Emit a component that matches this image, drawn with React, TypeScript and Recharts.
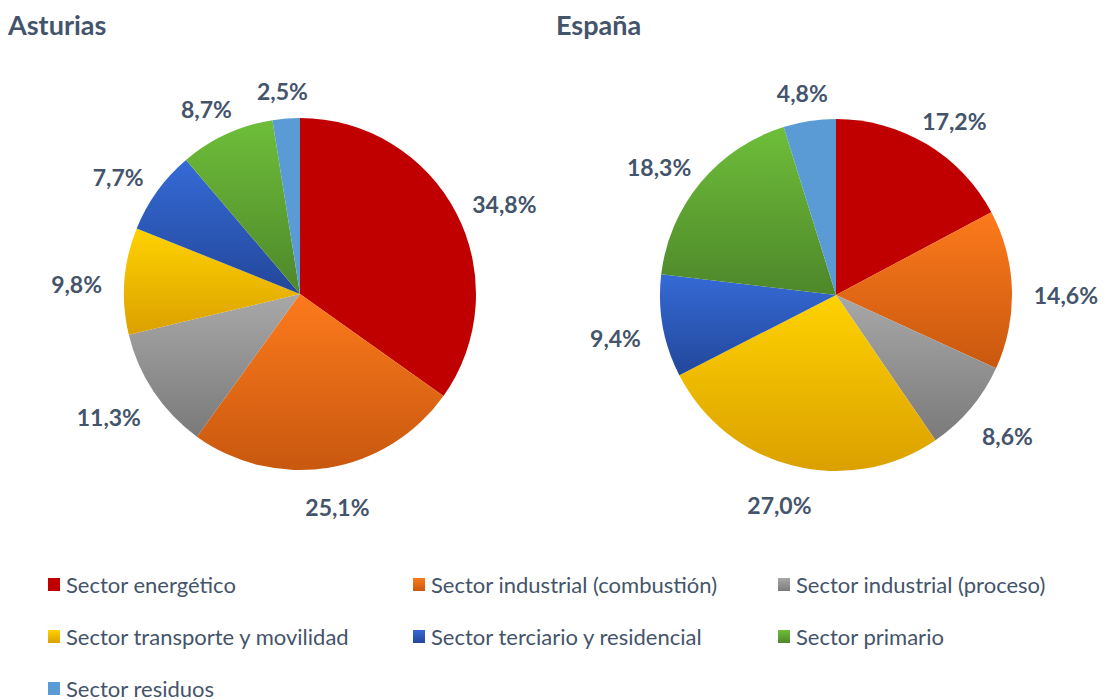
import React from 'react';
import { PieChart, Pie, Cell, Legend } from 'recharts';

// Sector names, in the order the slices go round (clockwise from 12 o'clock)
const sectors = [
    'Sector energético',
    'Sector industrial (combustión)',
    'Sector industrial (proceso)',
    'Sector transporte y movilidad',
    'Sector terciario y residencial',
    'Sector primario',
    'Sector residuos',
];

// share of emissions, %
const asturiasValues = [34.8, 25.1, 11.3, 9.8, 7.7, 8.7, 2.5];
const espanaValues = [17.2, 14.6, 8.6, 27.0, 9.4, 18.3, 4.8];

// top / bottom colour of each slice gradient
const GRADIENTS: [string, string][] = [
    ['#C00000', '#C00000'],
    ['#FD7A1C', '#C8580F'],
    ['#A8A8A8', '#7A7A7A'],
    ['#FFD200', '#DBA000'],
    ['#356AD6', '#23479A'],
    ['#6EBE3A', '#4E872A'],
    ['#5B9BD5', '#5B9BD5'],
];

const TEXT = '#44546A';
const FONT = 'Lato, "Open Sans", sans-serif';
const RADIAN = Math.PI / 180;

const asturiasData = sectors.map((name, i) => ({ name, value: asturiasValues[i] }));
const espanaData = sectors.map((name, i) => ({ name, value: espanaValues[i] }));

const fmt = (v: number) => v.toFixed(1).replace('.', ',') + '%';

// label box sits just outside the rim, pushed out along the slice's mid direction
const renderLabel = (props: any) => {
    const { cx, cy, midAngle, outerRadius, value } = props;
    const dx = Math.cos(-midAngle * RADIAN);
    const dy = Math.sin(-midAngle * RADIAN);
    const text = fmt(value);
    const w = text.length * 12;
    const h = 20;
    const r = outerRadius + 24;
    const x = cx + dx * r + (dx * w) / 2;
    const y = cy + dy * r + (dy * h) / 2 + 6;
    return (
        <text
            x={x}
            y={y}
            fill={TEXT}
            textAnchor="middle"
            dominantBaseline="central"
            style={{ fontFamily: FONT, fontWeight: 700, fontSize: 23 }}
        >
            {text}
        </text>
    );
};

const renderLegend = () => (
    <div
        style={{
            display: 'grid',
            gridTemplateColumns: '365px 365px 330px',
            fontFamily: FONT,
            fontSize: 22,
            color: TEXT,
        }}
    >
        {sectors.map((name, i) => (
            <div key={name} style={{ display: 'flex', alignItems: 'center', height: 52, whiteSpace: 'nowrap' }}>
                <span
                    style={{
                        flex: 'none',
                        width: 12,
                        height: 13,
                        marginRight: 6,
                        background: `linear-gradient(${GRADIENTS[i][0]}, ${GRADIENTS[i][1]})`,
                    }}
                />
                {name}
            </div>
        ))}
    </div>
);

const titleStyle: React.CSSProperties = {
    position: 'absolute',
    fontFamily: FONT,
    fontWeight: 700,
    fontSize: 27,
    color: TEXT,
    lineHeight: '30px',
};

const App: React.FC = () => {
    return (
        <div style={{ position: 'absolute', left: 0, top: 0, width: 1105, height: 700, background: '#fff' }}>
            <div style={{ ...titleStyle, left: 8, top: 10 }}>Asturias</div>
            <div style={{ ...titleStyle, left: 556, top: 10 }}>España</div>
            <PieChart
                width={1105}
                height={700}
                margin={{ top: 0, right: 0, bottom: 0, left: 0 }}
                style={{ position: 'absolute', left: 0, top: 0 }}
            >
                <defs>
                    {GRADIENTS.map(([a, b], i) => (
                        <linearGradient key={i} id={`grad-${i}`} x1="0" y1="0" x2="0" y2="1">
                            <stop offset="0%" stopColor={a} />
                            <stop offset="100%" stopColor={b} />
                        </linearGradient>
                    ))}
                </defs>
                <Pie
                    data={asturiasData}
                    dataKey="value"
                    nameKey="name"
                    cx={300}
                    cy={294}
                    outerRadius={176}
                    startAngle={90}
                    endAngle={-270}
                    stroke="none"
                    label={renderLabel}
                    labelLine={false}
                    isAnimationActive={false}
                >
                    {asturiasData.map((_, i) => (
                        <Cell key={`a-${i}`} fill={`url(#grad-${i})`} />
                    ))}
                </Pie>
                <Pie
                    data={espanaData}
                    dataKey="value"
                    nameKey="name"
                    cx={836}
                    cy={295}
                    outerRadius={176}
                    startAngle={90}
                    endAngle={-270}
                    stroke="none"
                    label={renderLabel}
                    labelLine={false}
                    isAnimationActive={false}
                >
                    {espanaData.map((_, i) => (
                        <Cell key={`e-${i}`} fill={`url(#grad-${i})`} />
                    ))}
                </Pie>
                <Legend
                    content={renderLegend}
                    wrapperStyle={{ position: 'absolute', left: 48, top: 558, width: 1060 }}
                />
            </PieChart>
        </div>
    );
};

export default App;
